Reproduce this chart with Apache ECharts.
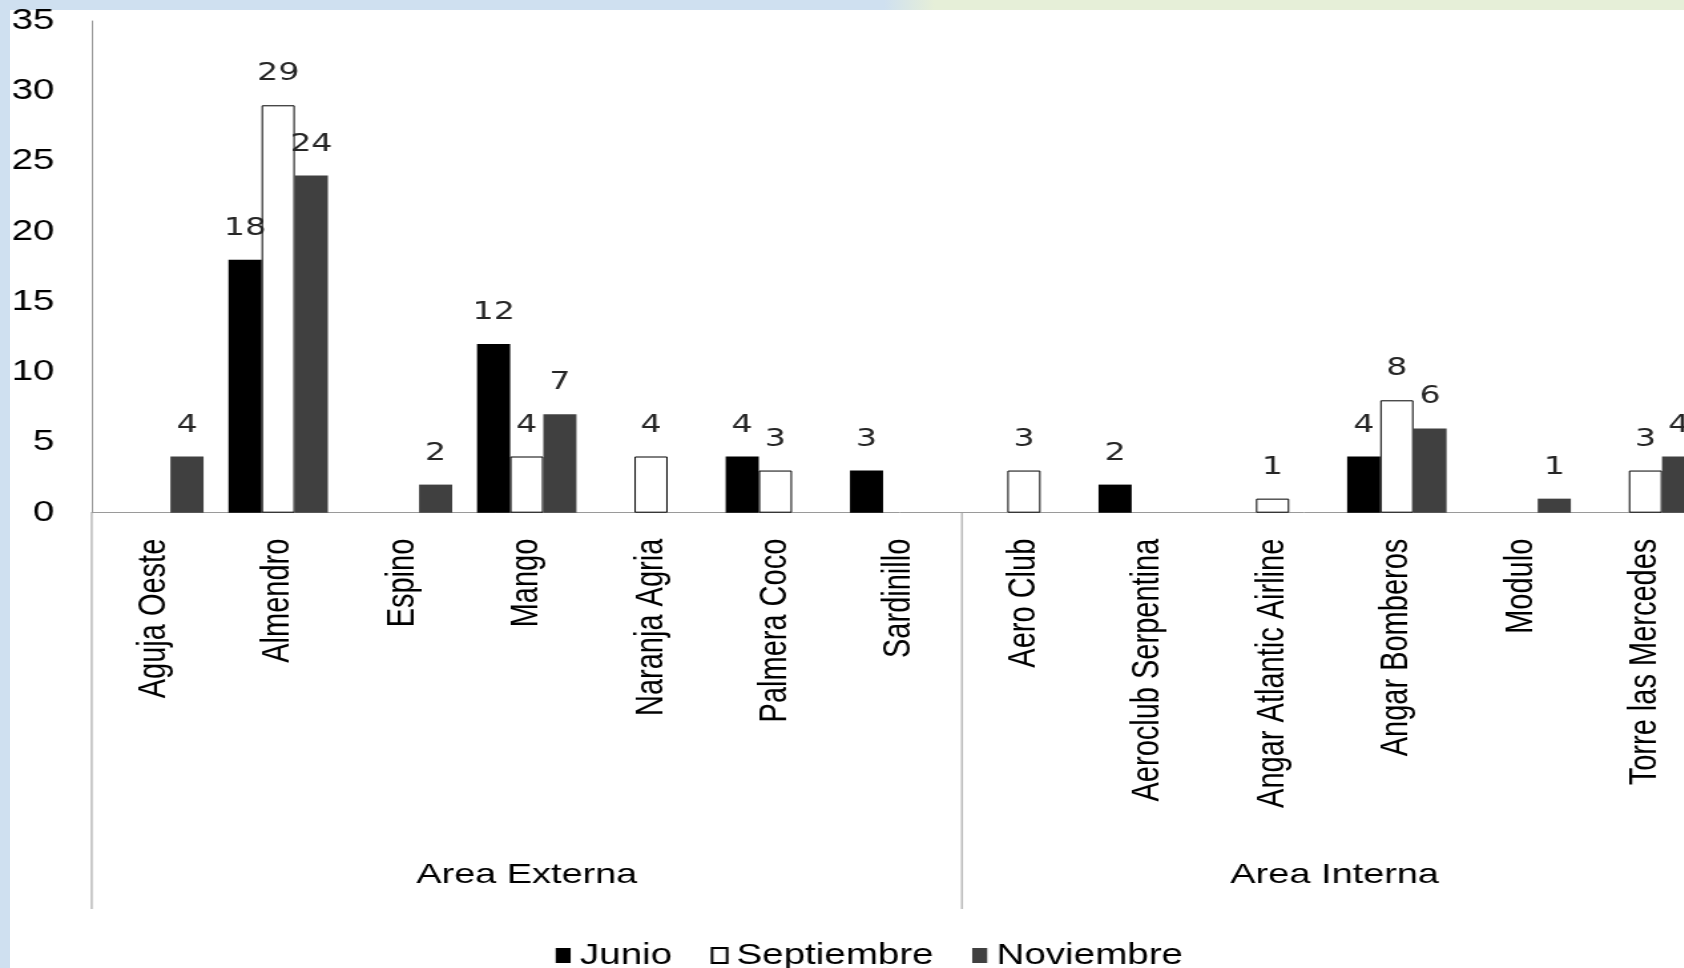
<!DOCTYPE html>
<html>
<head>
<meta charset="utf-8">
<script src="https://cdn.jsdelivr.net/npm/echarts@6/dist/echarts.min.js"></script>
<style>
  html, body { margin: 0; padding: 0; width: 1684px; height: 968px; overflow: hidden; background: #ffffff; }
  #topband { position: absolute; left: 0; top: 0; width: 1684px; height: 10px;
    background: linear-gradient(to right, #cfe0f0 0%, #cfe0f0 52.5%, #e6efd8 55.5%, #e6efd8 100%); }
  #leftband { position: absolute; left: 0; top: 0; width: 10px; height: 968px; background: #cfe0f0; }
  /* chart is laid out narrower and widened horizontally; the last column runs past the right edge */
  #chart { position: absolute; left: 0; top: 0; width: 1300px; height: 968px;
    transform: scaleX(1.33); transform-origin: 0 0; }
</style>
</head>
<body>
<div id="topband"></div>
<div id="leftband"></div>
<div id="chart"></div>
<script>
// Sites sampled, in axis order
const categories = [
  'Aguja Oeste', 'Almendro', 'Espino', 'Mango', 'Naranja Agria', 'Palmera Coco', 'Sardinillo',
  'Aero Club', 'Aeroclub Serpentina', 'Angar Atlantic Airline', 'Angar Bomberos', 'Modulo', 'Torre las Mercedes'
];
// Site groups and how many sites each holds
const groups = ['Area Externa', 'Area Interna'];
const groupSizes = [7, 6];

// Counts per month (null = no record)
const junio      = [null, 18, null, 12, null, 4, 3, null, 2, null, 4, null, null];
const septiembre = [null, 29, null, 4, 4, 3, null, 3, null, 1, 8, null, 3];
const noviembre  = [4, 24, 2, 7, null, null, null, null, null, null, 6, 1, 4];

// Value axis ticks
const yMin = 0, yMax = 35, yStep = 5;

const SX = 1.33;
const AXIS_GREY = '#9a9a9a';
const ARIAL = '"Liberation Sans", Arial, sans-serif';
const VERDANA = '"DejaVu Sans", Verdana, sans-serif';

const chart = echarts.init(document.getElementById('chart'));

const labelStyle = {
  show: true,
  position: 'top',
  distance: 19,
  fontFamily: VERDANA,
  fontSize: 25,
  color: '#262626'
};

const gridLeft = 91.7 / SX;
const gridWidth = 13 * 124.3 / SX;

chart.setOption({
  animation: false,
  backgroundColor: 'transparent',
  grid: { left: gridLeft, top: 21, width: gridWidth, bottom: 968 - 512.7, containLabel: false },
  legend: {
    left: 549 / SX,
    top: 936,
    icon: 'rect',
    itemWidth: 15 / SX,
    itemHeight: 15,
    itemGap: 29,
    textStyle: { fontFamily: ARIAL, fontSize: 29, color: '#000', padding: [0, 0, 0, 2] },
    data: [
      { name: 'Junio', icon: 'rect' },
      { name: 'Septiembre', icon: 'rect' },
      { name: 'Noviembre', icon: 'rect' }
    ]
  },
  xAxis: [{
    type: 'category',
    data: categories,
    axisLine: { show: true, lineStyle: { color: AXIS_GREY, width: 1 } },
    axisTick: { show: false },
    axisLabel: {
      interval: 0, rotate: 90, margin: 26,
      fontFamily: ARIAL, fontSize: 29, color: '#000'
    }
  }, {
    type: 'value', min: 0, max: categories.length, show: false
  }],
  yAxis: {
    type: 'value',
    min: yMin, max: yMax, interval: yStep,
    axisLine: { show: true, lineStyle: { color: AXIS_GREY, width: 1 } },
    axisTick: { show: false },
    splitLine: { show: false },
    axisLabel: { margin: 28, fontFamily: ARIAL, fontSize: 29, color: '#000' }
  },
  series: [{
    name: 'Junio', type: 'bar', data: junio,
    barGap: '0%', barCategoryGap: '20%',
    itemStyle: { color: '#000000' },
    label: labelStyle
  }, {
    name: 'Septiembre', type: 'bar', data: septiembre,
    barGap: '0%', barCategoryGap: '20%',
    itemStyle: { color: '#ffffff', borderColor: '#000000', borderWidth: 1 },
    label: labelStyle
  }, {
    name: 'Noviembre', type: 'bar', data: noviembre,
    barGap: '0%', barCategoryGap: '20%',
    itemStyle: { color: '#404040' },
    label: labelStyle
  }]
});

// Group dividers and group names below the site labels
const y0 = chart.convertToPixel({ yAxisIndex: 0 }, 0);
const lineBottom = 909;
const groupLabelY = 875;
const graphics = [];
let start = 0;
const bounds = [0];
groupSizes.forEach((n, i) => {
  const mid = chart.convertToPixel({ xAxisIndex: 1 }, start + n / 2);
  graphics.push({
    type: 'text',
    style: {
      text: groups[i], x: mid, y: groupLabelY,
      font: '28.5px ' + ARIAL, fill: '#000',
      textAlign: 'center', textVerticalAlign: 'middle',
      align: 'center', verticalAlign: 'middle'
    }
  });
  start += n;
  bounds.push(start);
});
bounds.forEach(b => {
  const x = chart.convertToPixel({ xAxisIndex: 1 }, b);
  graphics.push({
    type: 'line',
    shape: { x1: x, y1: y0, x2: x, y2: lineBottom },
    style: { stroke: AXIS_GREY, lineWidth: 1 }
  });
});
chart.setOption({ graphic: graphics });
</script>
</body>
</html>
